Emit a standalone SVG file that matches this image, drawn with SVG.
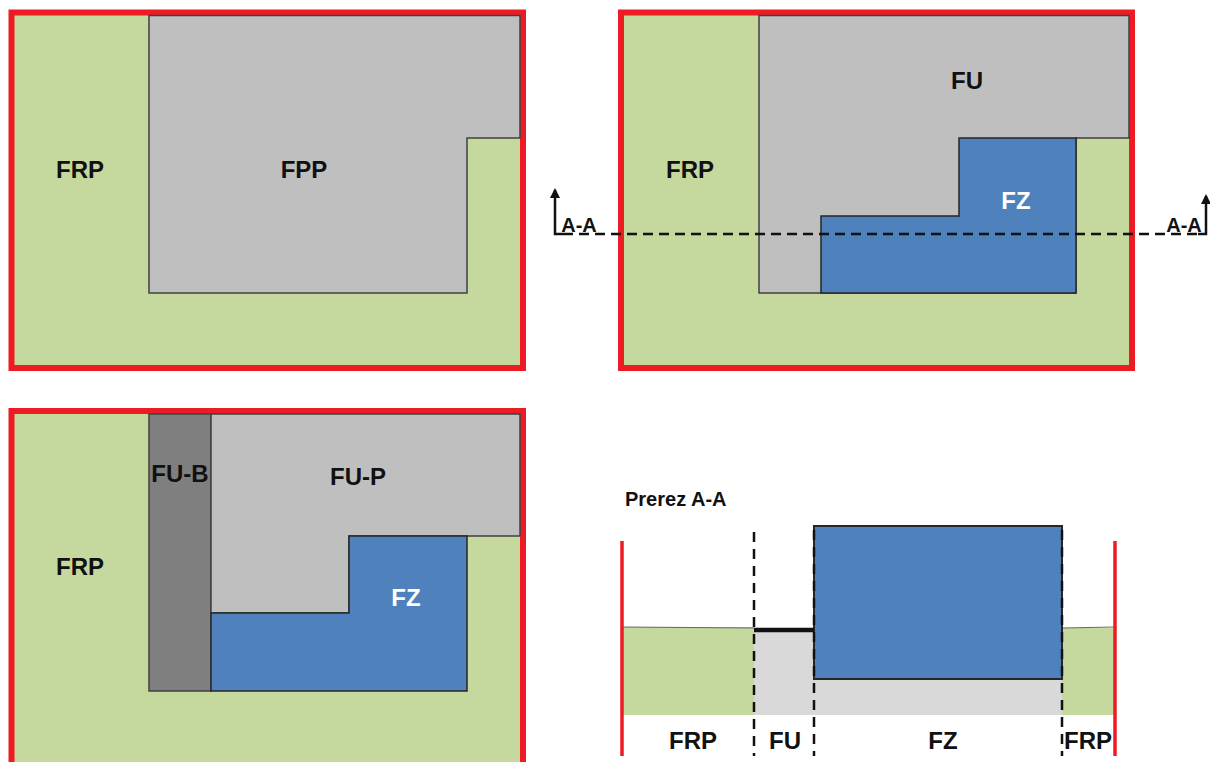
<svg xmlns="http://www.w3.org/2000/svg" width="1210" height="762" viewBox="0 0 1210 762">
<style>
.frame{fill:#c5d89d;stroke:#ed1c24;stroke-width:6}
.grey{fill:#bfbfbf;stroke:#404040;stroke-width:1.5}
.dark{fill:#7f7f7f;stroke:#404040;stroke-width:1.5}
.blue{fill:#4f81bd;stroke:#262626;stroke-width:1.5}
.lbl{font-family:"Liberation Sans",Arial,sans-serif;font-weight:bold;font-size:24px;fill:#111;text-anchor:middle}
.sm{font-size:20px}
.wl{fill:#fff}
.cut{stroke:#111;stroke-width:2.5;stroke-dasharray:10 6;fill:none}
.vd{stroke:#111;stroke-width:2.5;stroke-dasharray:10 7;fill:none}
.red{stroke:#ed1c24;stroke-width:3.5}
</style>
<defs>
<marker id="ah" viewBox="0 0 10 10" refX="8" refY="5" markerWidth="10" markerHeight="10" markerUnits="userSpaceOnUse" orient="auto">
<path d="M0,0 L10,5 L0,10 Z" fill="#111"/>
</marker>
</defs>
<rect width="1210" height="762" fill="#fff"/>

<g id="panel-top-left">
<rect class="frame" x="11.5" y="12.5" width="511.5" height="355.5"/>
<polygon class="grey" points="149,15.5 520,15.5 520,138 467,138 467,293 149,293"/>
<text class="lbl" x="80" y="178">FRP</text>
<text class="lbl" x="304" y="178">FPP</text>
</g>

<g id="panel-top-right">
<rect class="frame" x="621" y="12.5" width="511" height="355.5"/>
<polygon class="grey" points="759,15.5 1129,15.5 1129,138 1076,138 1076,293 759,293"/>
<polygon class="blue" points="959,138 1076,138 1076,293 821,293 821,216 959,216"/>
<text class="lbl" x="690" y="178">FRP</text>
<text class="lbl" x="967" y="89">FU</text>
<text class="lbl wl" x="1016" y="209">FZ</text>
</g>

<g id="panel-bottom-left">
<rect class="frame" x="11.5" y="411" width="511.5" height="370"/>
<rect class="dark" x="149" y="414" width="62" height="277"/>
<polygon class="grey" points="211,414 520,414 520,536 349,536 349,613 211,613"/>
<polygon class="blue" points="349,536 467,536 467,691 211,691 211,613 349,613"/>
<text class="lbl" x="80" y="575">FRP</text>
<text class="lbl" x="180" y="482">FU-B</text>
<text class="lbl" x="358" y="485">FU-P</text>
<text class="lbl wl" x="406" y="606">FZ</text>
</g>

<g id="section-a-a">
<text class="lbl sm" x="625" y="506" style="text-anchor:start">Prerez A-A</text>
<rect x="623" y="627" width="131" height="88" fill="#c5d89d"/>
<line x1="623" y1="627" x2="754" y2="628" stroke="#666" stroke-width="1"/>
<rect x="754" y="630" width="308" height="85" fill="#d9d9d9"/>
<rect x="1062" y="628" width="52" height="87" fill="#c5d89d"/>
<line x1="1062" y1="628" x2="1114" y2="627" stroke="#666" stroke-width="1"/>
<rect class="blue" x="814" y="526" width="248" height="153" style="stroke-width:2"/>
<line x1="754" y1="630" x2="814" y2="630" stroke="#111" stroke-width="4.5"/>
<line class="red" x1="622" y1="541" x2="622" y2="756"/>
<line class="red" x1="1115" y1="541" x2="1115" y2="756"/>
<text class="lbl" x="693" y="749">FRP</text>
<text class="lbl" x="785" y="749">FU</text>
<text class="lbl" x="943" y="749">FZ</text>
<text class="lbl" x="1088" y="749">FRP</text>
</g>

<g id="connectors">
<line class="cut" x1="563" y1="234" x2="1200" y2="234"/>
<polyline points="563,234 555,234 555,190" fill="none" stroke="#111" stroke-width="2.5" marker-end="url(#ah)"/>
<polyline points="1198,234 1206,234 1206,196" fill="none" stroke="#111" stroke-width="2.5" marker-end="url(#ah)"/>
<text class="lbl sm" x="579" y="232">A-A</text>
<text class="lbl sm" x="1184" y="232">A-A</text>
<line class="vd" x1="754" y1="532" x2="754" y2="756"/>
<line class="vd" x1="814" y1="530" x2="814" y2="756"/>
<line class="vd" x1="1062" y1="530" x2="1062" y2="756"/>
</g>
</svg>
